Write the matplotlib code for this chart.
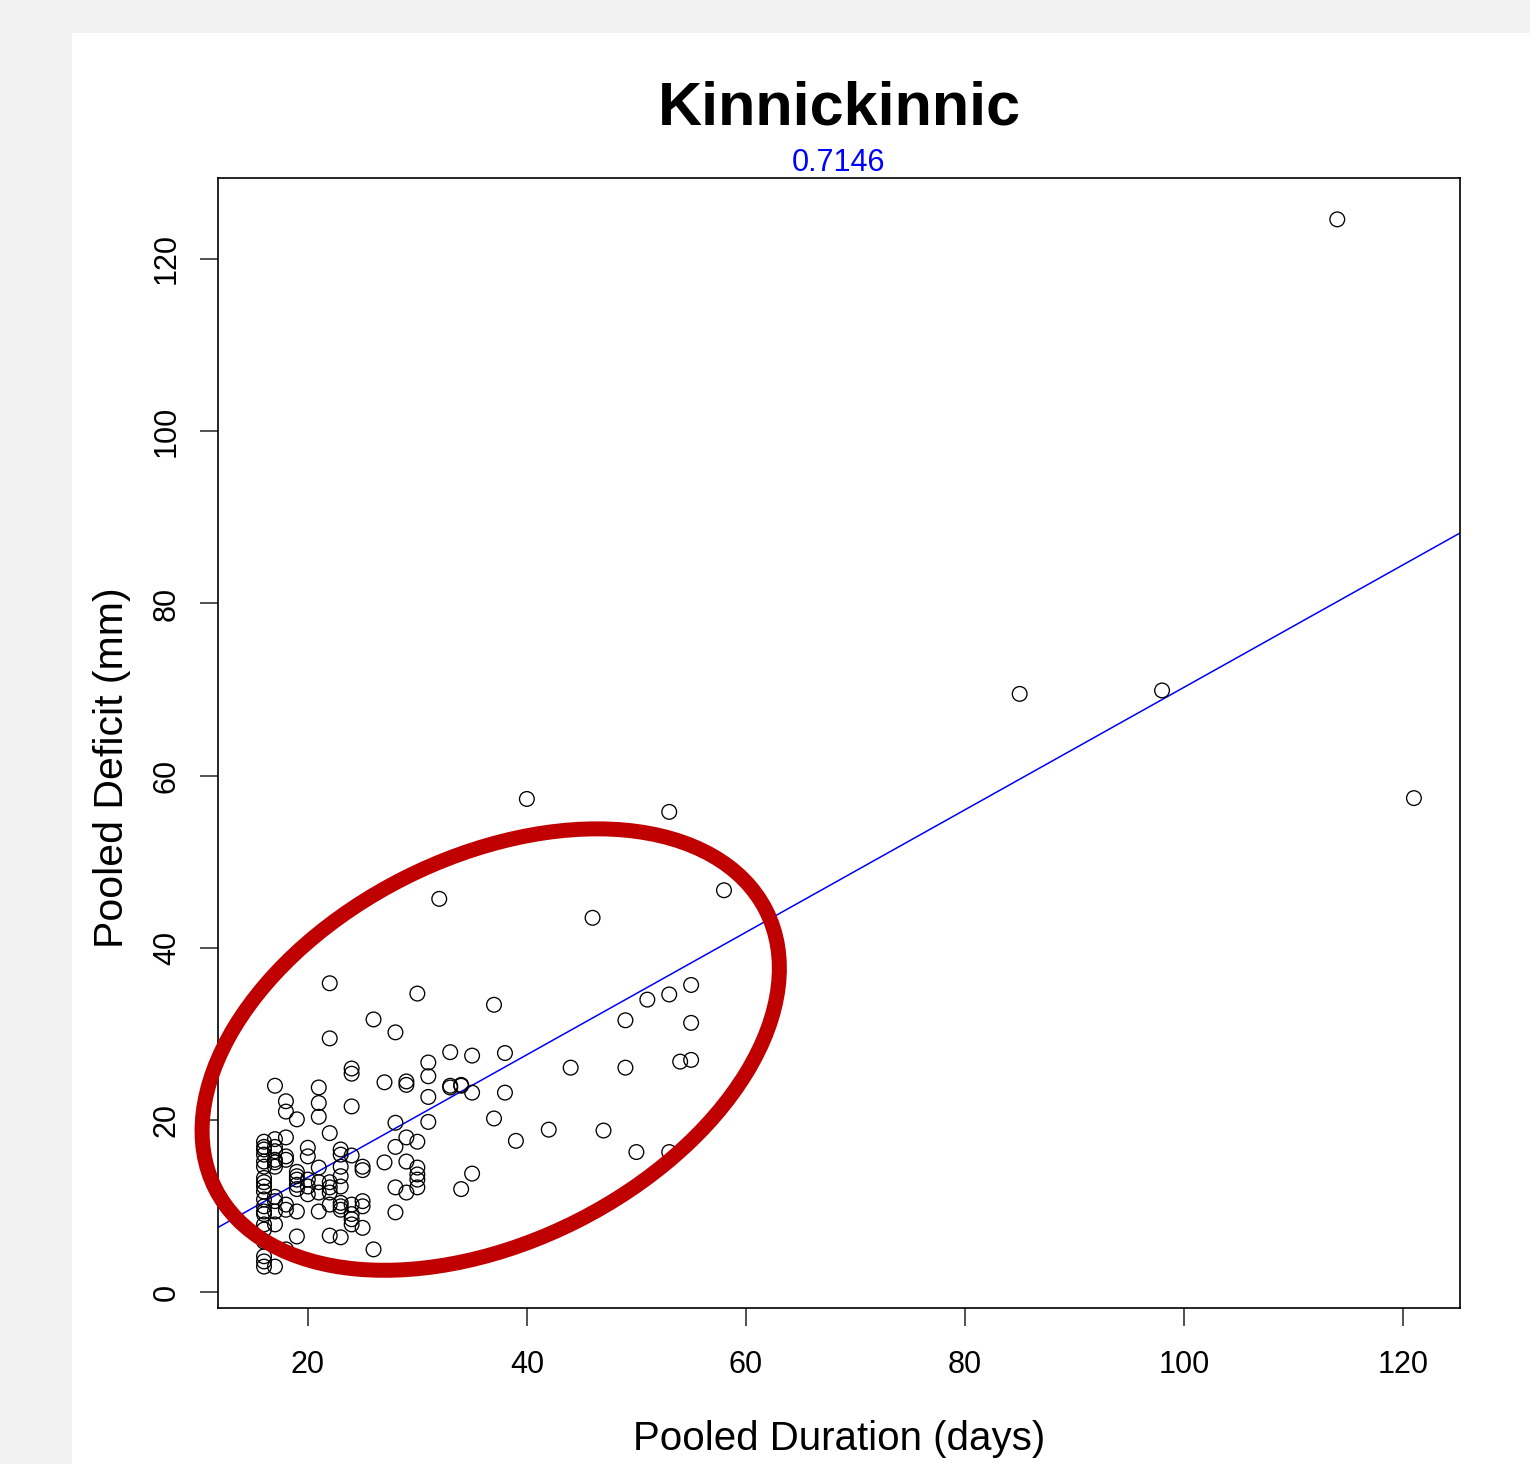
import numpy as np
import matplotlib
matplotlib.use('Agg')
import matplotlib.pyplot as plt
from matplotlib.patches import Ellipse, Rectangle
from matplotlib.transforms import IdentityTransform

plt.rcParams['font.family'] = ['Liberation Sans', 'DejaVu Sans']

# pooled events, grouped by duration (days)
duration = ([16] * 20 + [17] * 12 + [18] * 8 + [19] * 8 + [20] * 5 + [21] * 7
            + [22] * 8 + [23] * 9 + [24] * 8 + [25] * 5 + [26] * 2 + [27] * 2
            + [28] * 5 + [29] * 5 + [30] * 6 + [31] * 4 + [32] + [33] * 3
            + [34] * 3 + [35] * 3 + [37] * 2 + [38] * 2 + [39, 40, 42, 44, 46, 47]
            + [49] * 2 + [50, 51] + [53] * 3 + [54] + [55] * 3 + [58, 85, 98, 114, 121])
deficit = [17.5, 16.9, 16.6, 16.0, 15.2, 14.6, 13.3, 12.8, 12.3, 11.7, 10.8, 10.0,
           9.4, 9.1, 7.9, 7.3, 5.9, 4.2, 3.6, 3.0,
           24.0, 17.8, 16.9, 16.4, 15.4, 15.1, 14.6, 11.1, 10.6, 9.4, 7.9, 3.0,
           22.2, 21.0, 18.0, 15.8, 15.4, 10.2, 9.6, 5.0,
           20.1, 14.0, 13.5, 13.1, 12.5, 12.0, 9.4, 6.5,
           16.8, 15.8, 13.1, 12.3, 11.4,
           23.8, 22.0, 20.4, 14.5, 12.8, 11.6, 9.4,
           35.9, 29.5, 18.5, 12.8, 12.2, 11.6, 10.2, 6.6,
           16.6, 16.0, 14.6, 13.5, 12.3, 10.4, 10.0, 9.6, 6.4,
           26.0, 25.4, 21.6, 15.9, 10.2, 9.1, 8.5, 7.9,
           14.6, 14.2, 10.6, 10.0, 7.5,
           31.7, 5.0,
           24.4, 15.1,
           30.2, 19.7, 16.9, 12.2, 9.3,
           24.5, 24.1, 18.0, 15.2, 11.6,
           34.7, 17.5, 14.5, 13.7, 13.1, 12.2,
           26.7, 25.1, 22.7, 19.8,
           45.7,
           27.9, 24.0, 23.8,
           24.1, 24.0, 12.0,
           27.5, 23.2, 13.8,
           33.4, 20.2,
           27.8, 23.2,
           17.6, 57.3, 18.9, 26.1, 43.5, 18.8,
           31.6, 26.1,
           16.3, 34.0,
           55.8, 34.6, 16.3,
           26.8,
           35.7, 31.3, 27.0,
           46.7, 69.5, 69.9, 124.6, 57.4]

# regression line and its r-squared label
fit_intercept = -0.84
fit_slope = 0.711
r2_text = '0.7146'

x_ticks = [20, 40, 60, 80, 100, 120]
y_ticks = [0, 20, 40, 60, 80, 100, 120]

fig = plt.figure(figsize=(15.3, 14.64), dpi=100, facecolor='#f2f2f2')
fig.add_artist(Rectangle((72 / 1530, 0), 1, 1431 / 1464, transform=fig.transFigure,
                         facecolor='white', edgecolor='none', zorder=0))
ax = fig.add_axes([0.1425, 0.1066, 0.8117, 0.7718])

ax.scatter(duration, deficit, s=112, facecolors='none', edgecolors='black',
           linewidths=0.95, zorder=3)
ax.set_xlim(11.8, 125.2)
ax.set_ylim(-1.8, 129.4)
xs = np.array(ax.get_xlim())
ax.plot(xs, fit_intercept + fit_slope * xs, color='blue', lw=1.1, zorder=2)

ax.set_xticks(x_ticks)
ax.set_yticks(y_ticks)
ax.set_yticklabels([str(t) for t in y_ticks], rotation=90, va='center')
ax.tick_params(axis='both', length=13, width=1.2, labelsize=22, color='#333333')
ax.tick_params(axis='x', pad=17)
ax.tick_params(axis='y', pad=13)
for s in ax.spines.values():
    s.set_linewidth(1.2)

ax.text(0.5, 1.047, 'Kinnickinnic', transform=ax.transAxes, ha='center',
        va='baseline', fontsize=44, fontweight='bold')
ax.text(0.5, 1.006, r2_text, transform=ax.transAxes, ha='center',
        va='baseline', fontsize=22, color='blue')
ax.text(0.5, -0.1257, 'Pooled Duration (days)', transform=ax.transAxes,
        ha='center', va='baseline', fontsize=29)
ax.text(-0.0765, 0.478, 'Pooled Deficit (mm)', transform=ax.transAxes,
        ha='center', va='baseline', fontsize=29.5, rotation=90,
        rotation_mode='anchor')

# red hand-drawn style ring around the low-duration cluster
cx, cy = ax.transData.transform((36.7, 28.2))
ax.add_artist(Ellipse((cx, cy), 617, 384, angle=26.8, transform=IdentityTransform(),
                      fill=False, edgecolor='#c00000', lw=10.8, clip_on=False,
                      zorder=5))

fig.savefig('out.png', dpi=100, facecolor=fig.get_facecolor())
